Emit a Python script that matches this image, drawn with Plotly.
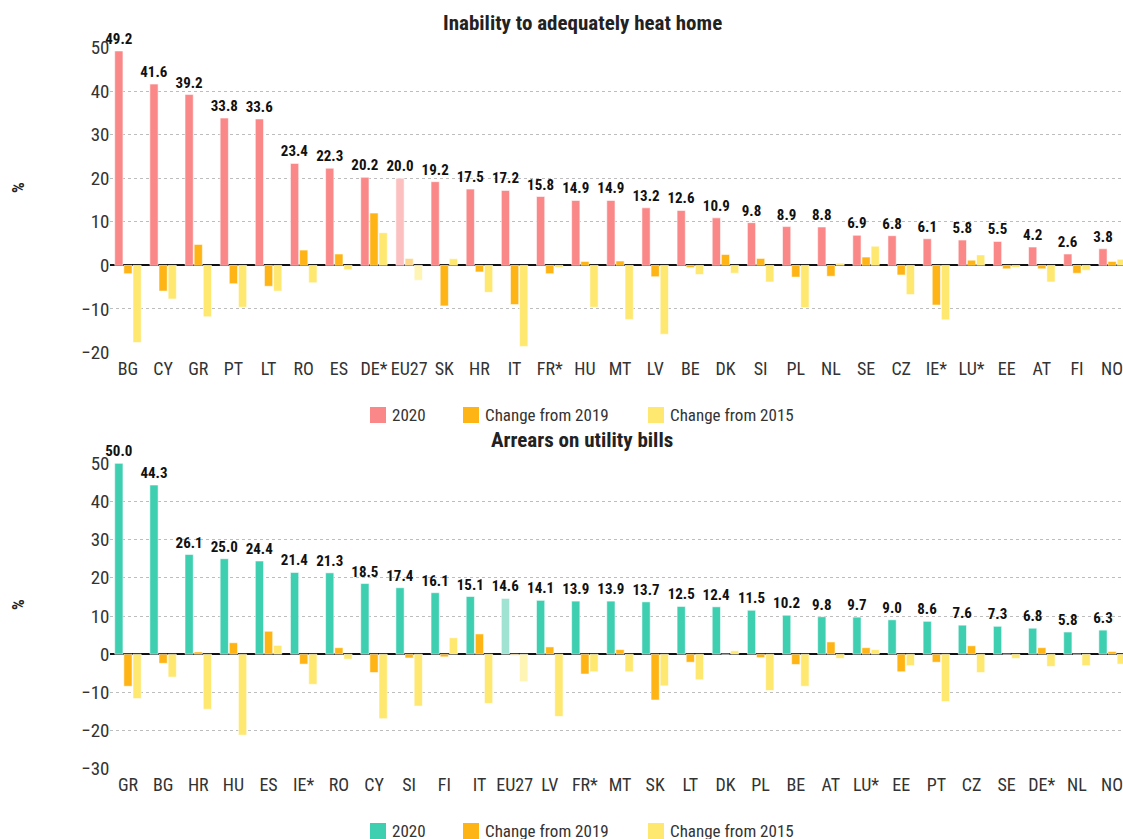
import plotly.graph_objects as go

# ---- Inability to adequately heat home ----
heat_countries = ["BG", "CY", "GR", "PT", "LT", "RO", "ES", "DE*", "EU27", "SK", "HR", "IT", "FR*", "HU",
                  "MT", "LV", "BE", "DK", "SI", "PL", "NL", "SE", "CZ", "IE*", "LU*", "EE", "AT", "FI", "NO"]
heat_2020 = [49.2, 41.6, 39.2, 33.8, 33.6, 23.4, 22.3, 20.2, 20.0, 19.2, 17.5, 17.2, 15.8, 14.9,
             14.9, 13.2, 12.6, 10.9, 9.8, 8.9, 8.8, 6.9, 6.8, 6.1, 5.8, 5.5, 4.2, 2.6, 3.8]
heat_chg_2019 = [-1.9, -5.9, 4.8, -4.2, -4.8, 3.5, 2.6, 12.0, 1.6, -9.3, -1.5, -9.0, -1.9, 0.9,
                 1.0, -2.6, -0.5, 2.5, 1.6, -2.7, -2.5, 1.9, -2.2, -9.1, 1.2, -0.8, -0.8, -1.8, 0.9]
heat_chg_2015 = [-17.7, -7.7, -11.8, -9.6, -5.9, -4.0, -1.0, 7.5, -3.4, 1.5, -6.2, -18.6, -0.5, -9.6,
                 -12.4, -15.8, -2.1, -1.8, -3.8, -9.7, 0.5, 4.4, -6.7, -12.5, 2.4, -0.5, -3.8, -1.1, 1.4]

# ---- Arrears on utility bills ----
arrears_countries = ["GR", "BG", "HR", "HU", "ES", "IE*", "RO", "CY", "SI", "FI", "IT", "EU27", "LV", "FR*",
                     "MT", "SK", "LT", "DK", "PL", "BE", "AT", "LU*", "EE", "PT", "CZ", "SE", "DE*", "NL", "NO"]
arrears_2020 = [50.0, 44.3, 26.1, 25.0, 24.4, 21.4, 21.3, 18.5, 17.4, 16.1, 15.1, 14.6, 14.1, 13.9,
                13.9, 13.7, 12.5, 12.4, 11.5, 10.2, 9.8, 9.7, 9.0, 8.6, 7.6, 7.3, 6.8, 5.8, 6.3]
arrears_chg_2019 = [-8.4, -2.4, 0.6, 3.0, 6.0, -2.6, 1.7, -4.8, -1.0, -0.7, 5.3, -0.3, 1.9, -5.2,
                    1.2, -12.0, -2.1, 0.0, -0.9, -2.7, 3.2, 1.7, -4.6, -2.1, 2.2, 0.0, 1.7, 0.0, 0.7]
arrears_chg_2015 = [-11.6, -6.0, -14.4, -21.2, 2.3, -7.9, -1.3, -16.9, -13.6, 4.3, -12.9, -7.2, -16.3, -4.6,
                    -4.6, -8.3, -6.7, 0.9, -9.5, -8.4, -1.1, 1.2, -3.0, -12.4, -4.8, -1.1, -3.2, -3.0, -2.6]

series_names = ["2020", "Change from 2019", "Change from 2015"]

FONT = "Roboto Condensed, Liberation Sans, Arial, sans-serif"
TEXT = "#222222"

RED, RED_EU = "#FA8888", "#FCC0C0"
TEAL, TEAL_EU = "#3ECEB0", "#A0E3D3"
ORANGE, ORANGE_EU = "#FEB415", "#FED88A"
YELLOW, YELLOW_EU = "#FEE870", "#FEF4B4"

W, H = 1123, 839


def colours(cats, base, eu):
    return [eu if c == "EU27" else base for c in cats]


fig = go.Figure()


def add_panel(cats, v2020, v2019, v2015, main, main_eu, xa, ya):
    edge = dict(color="rgba(255,255,255,0.55)", width=1)
    fig.add_trace(go.Bar(
        x=cats, y=v2020, name=series_names[0], xaxis=xa, yaxis=ya,
        marker=dict(color=colours(cats, main, main_eu), line=edge),
        text=[f"{v:.1f}" for v in v2020], textposition="outside", constraintext="none",
        cliponaxis=False, textfont=dict(family=FONT, size=15, color="#111111", weight="bold"),
    ))
    fig.add_trace(go.Bar(
        x=cats, y=v2019, name=series_names[1], xaxis=xa, yaxis=ya,
        marker=dict(color=colours(cats, ORANGE, ORANGE_EU), line=edge),
    ))
    fig.add_trace(go.Bar(
        x=cats, y=v2015, name=series_names[2], xaxis=xa, yaxis=ya,
        marker=dict(color=colours(cats, YELLOW, YELLOW_EU), line=edge),
    ))


add_panel(heat_countries, heat_2020, heat_chg_2019, heat_chg_2015, RED, RED_EU, "x", "y")
add_panel(arrears_countries, arrears_2020, arrears_chg_2019, arrears_chg_2015, TEAL, TEAL_EU, "x2", "y2")

x_dom = [110.4 / W, 1.0]
x_range = [-0.5, 28.31]

xaxis_common = dict(domain=x_dom, range=x_range, showgrid=False, showline=False, ticks="",
                    tickfont=dict(family=FONT, size=18, color="#333333"), automargin=False,
                    ticklabelstandoff=3, fixedrange=True)
yaxis_common = dict(showgrid=True, gridcolor="#BDBDBD", griddash="dot", gridwidth=1,
                    zeroline=True, zerolinecolor="#111111", zerolinewidth=1.5,
                    dtick=10, ticks="", showline=False, automargin=False,
                    tickfont=dict(family=FONT, size=19, color="#333333"), fixedrange=True)

fig.update_layout(
    width=W, height=H,
    margin=dict(l=0, r=0, t=0, b=0),
    paper_bgcolor="white", plot_bgcolor="white",
    barmode="group", bargap=0.22, bargroupgap=0.1,
    font=dict(family=FONT, color=TEXT),
    showlegend=False,
    xaxis=dict(**xaxis_common, anchor="y"),
    yaxis=dict(**yaxis_common, domain=[1 - 352.5 / H, 1 - 47.5 / H], range=[-20, 50], anchor="x"),
    xaxis2=dict(**xaxis_common, anchor="y2"),
    yaxis2=dict(**yaxis_common, domain=[1 - 768.7 / H, 1 - 463.3 / H], range=[-30, 50], anchor="x2"),
)

# Panel titles and y-axis unit labels
for title, yp in (("Inability to adequately heat home", 23), ("Arrears on utility bills", 440)):
    fig.add_annotation(text=f"<b>{title}</b>", x=582 / W, y=1 - yp / H, xref="paper", yref="paper",
                       xanchor="center", yanchor="middle", showarrow=False,
                       font=dict(family=FONT, size=21, color=TEXT))
for yp in (188, 605):
    fig.add_annotation(text="<b>%</b>", x=18 / W, y=1 - yp / H, xref="paper", yref="paper",
                       xanchor="center", yanchor="middle", showarrow=False, textangle=-90,
                       font=dict(family=FONT, size=17, color=TEXT))

# Series keys under each panel
legend_items = [(370, 463, 648)]
swatch_x = [370, 463, 648]
for y_mid, first_colour in ((415, RED), (831, TEAL)):
    for name, x0, col in zip(series_names, swatch_x, (first_colour, ORANGE, YELLOW)):
        fig.add_shape(type="rect", xref="paper", yref="paper",
                      x0=x0 / W, x1=(x0 + 16) / W, y0=1 - (y_mid + 8) / H, y1=1 - (y_mid - 8) / H,
                      fillcolor=col, line=dict(width=0))
        fig.add_annotation(text=name, x=(x0 + 20) / W, y=1 - y_mid / H, xref="paper", yref="paper",
                           xanchor="left", yanchor="middle", showarrow=False,
                           font=dict(family=FONT, size=17, color="#333333"))

fig.write_html("out.html")
